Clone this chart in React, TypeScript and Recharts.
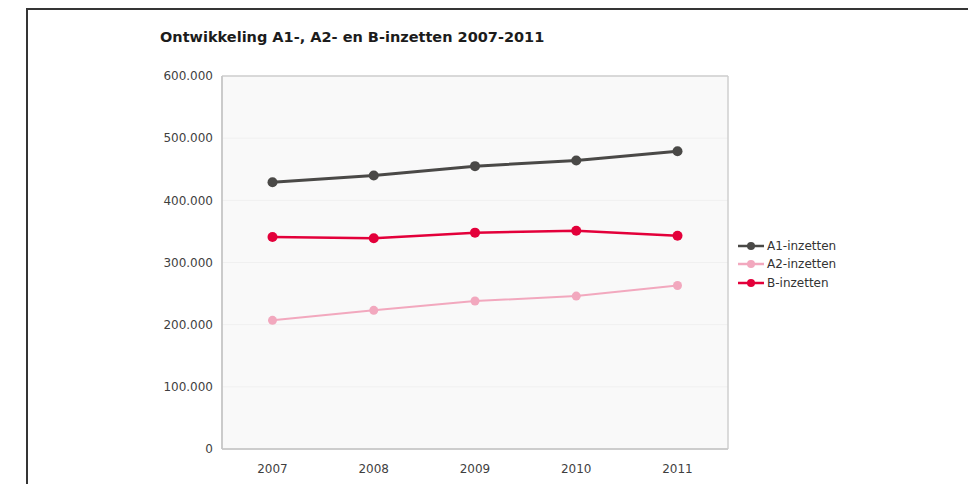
import React from 'react';
import { LineChart, Line, XAxis, YAxis, CartesianGrid } from 'recharts';

// Years on the category axis
const years = ['2007', '2008', '2009', '2010', '2011'];

// Yearly counts per type of inzet
const a1Inzetten = [429000, 440000, 455000, 464000, 479000];
const a2Inzetten = [207000, 223000, 238000, 246000, 263000];
const bInzetten = [341000, 339000, 348000, 351000, 343000];

// Value axis ticks
const yTicks = [0, 100000, 200000, 300000, 400000, 500000, 600000];

const series = [
  { key: 'a1', name: 'A1-inzetten', color: '#4a4947', width: 3, r: 5 },
  { key: 'a2', name: 'A2-inzetten', color: '#f2a8be', width: 2, r: 4.5 },
  { key: 'b', name: 'B-inzetten', color: '#e3003a', width: 2.5, r: 5 },
];

const data = years.map((year, i) => ({
  year,
  a1: a1Inzetten[i],
  a2: a2Inzetten[i],
  b: bInzetten[i],
}));

const FONT = '"DejaVu Sans", Verdana, sans-serif';

const formatThousands = (v: number) =>
  v === 0 ? '0' : v.toString().replace(/\B(?=(\d{3})+(?!\d))/g, '.');

// Outline of the plot area: its two outer edges in each direction
const edgeX = (p: any) => [p.offset.left, p.offset.left + p.offset.width];
const edgeY = (p: any) => [p.offset.top, p.offset.top + p.offset.height];

function SeriesLegend() {
  return (
    <div
      style={{
        position: 'absolute',
        left: 738,
        top: 236.5,
        fontFamily: FONT,
        fontSize: 12,
        color: '#333',
      }}
    >
      {series.map((s) => (
        <div
          key={s.key}
          style={{ display: 'flex', alignItems: 'center', height: 18.5, whiteSpace: 'nowrap' }}
        >
          <svg width={26} height={10} style={{ marginRight: 3 }}>
            <line x1={0} y1={5} x2={26} y2={5} stroke={s.color} strokeWidth={2.5} />
            <circle cx={13} cy={5} r={4} fill={s.color} />
          </svg>
          <span>{s.name}</span>
        </div>
      ))}
    </div>
  );
}

export default function App() {
  const tickStyle = { fontFamily: FONT, fontSize: 12, fill: '#3f3f3f' };
  return (
    <div
      style={{
        position: 'fixed',
        left: 0,
        top: 0,
        width: 968,
        height: 484,
        overflow: 'hidden',
        background: '#ffffff',
      }}
    >
      <div
        style={{
          position: 'absolute',
          left: 26,
          top: 8,
          width: 1000,
          height: 500,
          borderTop: '2px solid #353535',
          borderLeft: '2px solid #353535',
        }}
      />
      <div
        style={{
          position: 'absolute',
          left: 160,
          top: 29,
          fontFamily: FONT,
          fontWeight: 'bold',
          fontSize: 14.5,
          color: '#1c1c1c',
          whiteSpace: 'nowrap',
        }}
      >
        Ontwikkeling A1-, A2- en B-inzetten 2007-2011
      </div>
      <div style={{ position: 'absolute', left: 0, top: 0 }}>
        <LineChart
          width={968}
          height={484}
          data={data}
          margin={{ top: 76, right: 240, bottom: 0, left: 0 }}
        >
          <CartesianGrid
            fill="#f9f9f9"
            stroke="#f0f0f0"
            strokeWidth={1}
            vertical={false}
          />
          <CartesianGrid
            stroke="#cfcfcf"
            strokeWidth={1.5}
            horizontalCoordinatesGenerator={edgeY}
            verticalCoordinatesGenerator={edgeX}
          />
          <XAxis
            dataKey="year"
            height={35}
            padding={{ left: 50.5, right: 50.5 }}
            axisLine={{ stroke: '#c8c8c8', strokeWidth: 1.5 }}
            tickLine={false}
            tickSize={6}
            tickMargin={9}
            tick={tickStyle}
            interval={0}
          />
          <YAxis
            width={222}
            domain={[0, 600000]}
            ticks={yTicks}
            interval={0}
            tickFormatter={formatThousands}
            axisLine={{ stroke: '#c6c6c6', strokeWidth: 1.5 }}
            tickLine={false}
            tickSize={6}
            tickMargin={3}
            tick={tickStyle}
          />
          {series.map((s) => (
            <Line
              key={s.key}
              type="linear"
              dataKey={s.key}
              name={s.name}
              stroke={s.color}
              strokeWidth={s.width}
              dot={{ r: s.r, fill: s.color, stroke: s.color, strokeWidth: 0 }}
              activeDot={false}
              isAnimationActive={false}
            />
          ))}
        </LineChart>
      </div>
      <SeriesLegend />
    </div>
  );
}
